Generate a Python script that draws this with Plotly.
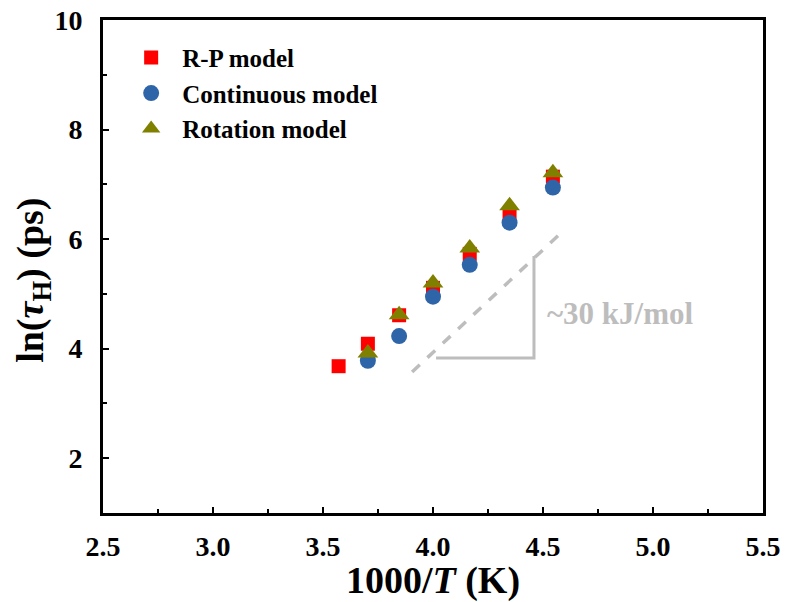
import plotly.graph_objects as go

# 1000/T values (K^-1 scaled)
x_rp = [3.571, 3.704, 3.846, 4.000, 4.167, 4.348, 4.545]
y_rp = [3.68, 4.09, 4.61, 5.11, 5.73, 6.44, 7.14]

x_cont = [3.704, 3.846, 4.000, 4.167, 4.348, 4.545]
y_cont = [3.78, 4.23, 4.95, 5.53, 6.30, 6.94]

x_rot = [3.704, 3.846, 4.000, 4.167, 4.348, 4.545]
y_rot = [3.92, 4.62, 5.20, 5.84, 6.61, 7.21]

# slope guide (activation energy ~30 kJ/mol)
guide_x = [3.905, 4.568]
guide_y = [3.575, 6.06]
tri_x = [4.014, 4.459, 4.459]
tri_y = [3.83, 3.83, 5.69]

x_ticks = [2.5, 3.0, 3.5, 4.0, 4.5, 5.0, 5.5]
x_ticktext = ["2.5", "3.0", "3.5", "4.0", "4.5", "5.0", "5.5"]
y_ticks = [2, 4, 6, 8, 10]

FONT = "Liberation Serif"
GRAY = "#BDBDBD"

fig = go.Figure()

fig.add_trace(go.Scatter(x=guide_x, y=guide_y, mode="lines",
                         line=dict(color=GRAY, width=3.5, dash="dash"),
                         showlegend=False, hoverinfo="skip"))
fig.add_trace(go.Scatter(x=tri_x, y=tri_y, mode="lines",
                         line=dict(color=GRAY, width=3),
                         showlegend=False, hoverinfo="skip"))

fig.add_trace(go.Scatter(x=x_rp, y=y_rp, mode="markers", name="R-P model",
                         legendgroup="a",
                         marker=dict(symbol="square", size=14, color="#FF0000")))
fig.add_trace(go.Scatter(x=x_cont, y=y_cont, mode="markers", name="Continuous model",
                         legendgroup="b",
                         marker=dict(symbol="circle", size=16, color="#2E64A8")))
fig.add_trace(go.Scatter(x=x_rot, y=y_rot, mode="markers", name="Rotation model",
                         legendgroup="c",
                         marker=dict(symbol="triangle-up", size=18, color="#808000")))

fig.add_annotation(x=4.509, y=4.65, text="~30 kJ/mol", showarrow=False,
                   xanchor="left", yanchor="middle",
                   font=dict(family=FONT, size=31, color=GRAY, weight="bold"))

# y axis title placed as an annotation for exact centring
fig.add_annotation(xref="paper", yref="paper", x=-0.106, y=0.471,
                   text="ln(<i>τ</i><sub>H</sub>) (ps)", textangle=-90,
                   showarrow=False, xanchor="center", yanchor="middle",
                   font=dict(family=FONT, size=38, color="black", weight="bold"))

axis_common = dict(showline=True, linecolor="black", linewidth=3, mirror=True,
                   ticks="inside", ticklen=6, tickwidth=2, tickcolor="black",
                   showgrid=False, zeroline=False, automargin=False,
                   tickfont=dict(family=FONT, size=28, color="black", weight="bold"))

fig.update_xaxes(range=[2.5, 5.5], tickvals=x_ticks, ticktext=x_ticktext,
                 minor=dict(ticks="inside", ticklen=4, tickwidth=2, tickcolor="black", dtick=0.25, tick0=2.5),
                 title=dict(text="1000/<i>T</i> (K)", standoff=7,
                            font=dict(family=FONT, size=38, color="black", weight="bold")),
                 ticklabelstandoff=6,
                 **axis_common)
fig.update_yaxes(range=[1, 10], tickvals=y_ticks,
                 minor=dict(ticks="inside", ticklen=4, tickwidth=2, tickcolor="black", dtick=1, tick0=1),
                 ticklabelstandoff=12,
                 **axis_common)

fig.update_layout(
    width=785, height=602,
    margin=dict(l=103, r=22, t=20, b=89),
    plot_bgcolor="white", paper_bgcolor="white",
    showlegend=True,
    legend=dict(x=0.026, y=0.97, xanchor="left", yanchor="top",
                bgcolor="rgba(0,0,0,0)", traceorder="grouped", tracegroupgap=0,
                itemwidth=52,
                font=dict(family=FONT, size=25, color="black", weight="bold")),
)

fig.write_html("out.html")
